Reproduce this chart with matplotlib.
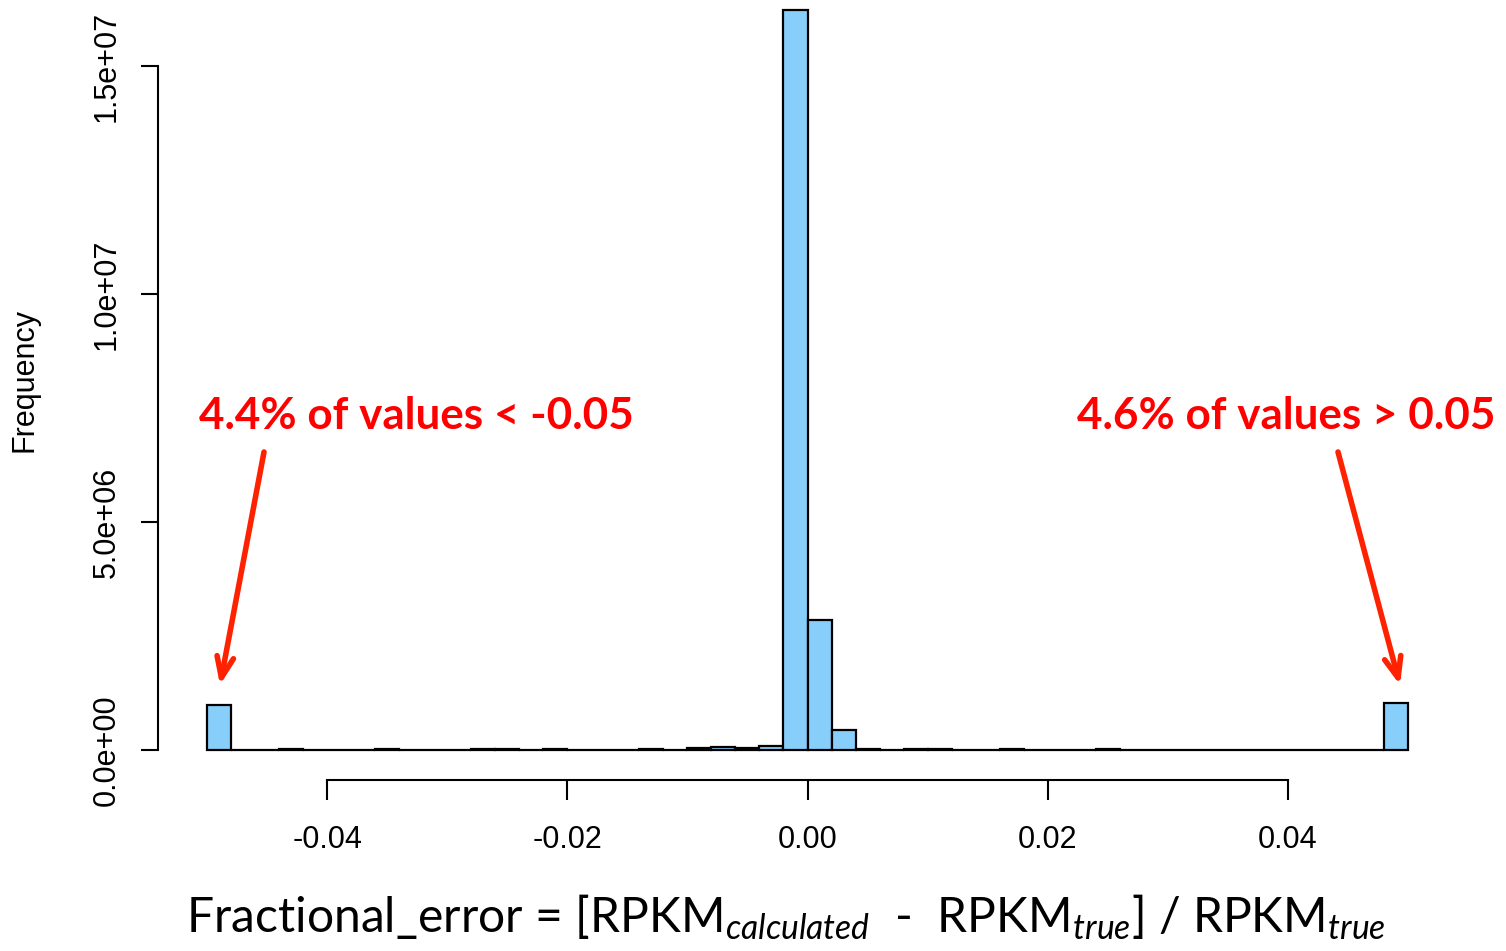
import matplotlib
matplotlib.use("Agg")
import matplotlib.pyplot as plt
import numpy as np

# ---- data ----
bin_left_edges = [round(-0.05 + 0.002 * i, 3) for i in range(50)]
bin_width = 0.002
counts = [
    990000, 6000, 4000, 18000, 8000, 5000, 4000, 16000, 4000, 3000,
    6000, 18000, 15000, 4000, 18000, 6000, 3000, 5000, 22000, 5000,
    40000, 60000, 45000, 95000, 16230000, 2850000, 440000, 22000, 3000, 20000,
    20000, 8000, 4000, 16000, 6000, 4000, 3000, 14000, 6000, 4000,
    3000, 2000, 5000, 3000, 2000, 3000, 2000, 6000, 3000, 1030000,
]
yticks = [0, 5e6, 1e7, 1.5e7]
ytick_labels = ["0.0e+00", "5.0e+06", "1.0e+07", "1.5e+07"]
xticks = [-0.04, -0.02, 0.00, 0.02, 0.04]
xtick_labels = ["-0.04", "-0.02", "0.00", "0.02", "0.04"]
left_note = "4.4% of values < -0.05"
right_note = "4.6% of values > 0.05"

W, H = 1506, 951
fig = plt.figure(figsize=(W / 100, H / 100), dpi=100)

x0, x1 = 207, 1408
y_base, y_top = 750, 5
ax = fig.add_axes([x0 / W, (H - y_base) / H, (x1 - x0) / W, (y_base - y_top) / H])
ymax = (y_base - y_top) / (750 - 66) * 1.5e7
ax.set_xlim(-0.05, 0.05)
ax.set_ylim(0, ymax)

ax.bar(bin_left_edges, counts, width=bin_width, align="edge",
       color="#87CEFA", edgecolor="black", linewidth=1.6, clip_on=False)

for s in ["top", "right"]:
    ax.spines[s].set_visible(False)
ax.spines["left"].set_position(("outward", (207 - 158) * 0.72))
ax.spines["left"].set_bounds(0, 1.5e7)
ax.spines["bottom"].set_position(("outward", 30 * 0.72))
ax.spines["bottom"].set_bounds(-0.04, 0.04)
for s in ["left", "bottom"]:
    ax.spines[s].set_linewidth(1.5)

tf = "Liberation Sans"
ax.set_yticks(yticks)
ax.set_yticklabels(ytick_labels, rotation=90, va="center", fontsize=22, family=tf)
ax.set_xticks(xticks)
ax.set_xticklabels(xtick_labels, fontsize=22, family=tf)
ax.tick_params(axis="y", length=17 * 0.72, width=1.5, pad=14)
ax.tick_params(axis="x", length=20 * 0.72, width=1.5, pad=18)

fig.text(25 / W, 1 - 380 / H, "Frequency", rotation=90, ha="center", va="center",
         fontsize=22, family=tf)

plt.rcParams["mathtext.fontset"] = "custom"
plt.rcParams["mathtext.rm"] = "Lato"
plt.rcParams["mathtext.it"] = "Lato:italic"
xl = (r"Fractional_error = [RPKM$_{\mathit{calculated}}$  -  RPKM$_{\mathit{true}}$]"
      r" / RPKM$_{\mathit{true}}$")
fig.text(786 / W, 1 - 917 / H, xl, ha="center", va="center", fontsize=34.6, family="Lato")

red = "#FF0000"
fig.text(416 / W, 1 - 416 / H, left_note, ha="center", va="center", fontsize=31.7,
         family="Lato", weight="bold", color=red)
fig.text(1286 / W, 1 - 416 / H, right_note, ha="center", va="center", fontsize=31.7,
         family="Lato", weight="bold", color=red)

arrow_col = "#FF2200"
for (sx, sy), (tx, ty) in [((264, 452), (220, 685)), ((1338, 452), (1400, 685))]:
    ax.annotate("", xy=(tx / W, 1 - ty / H), xycoords="figure fraction",
                xytext=(sx / W, 1 - sy / H), textcoords="figure fraction",
                arrowprops=dict(arrowstyle="->,head_length=1.5,head_width=0.6",
                                color=arrow_col, lw=4, shrinkA=0, shrinkB=0,
                                capstyle="round", joinstyle="round"))

fig.savefig("out.png", dpi=100, facecolor="white")
